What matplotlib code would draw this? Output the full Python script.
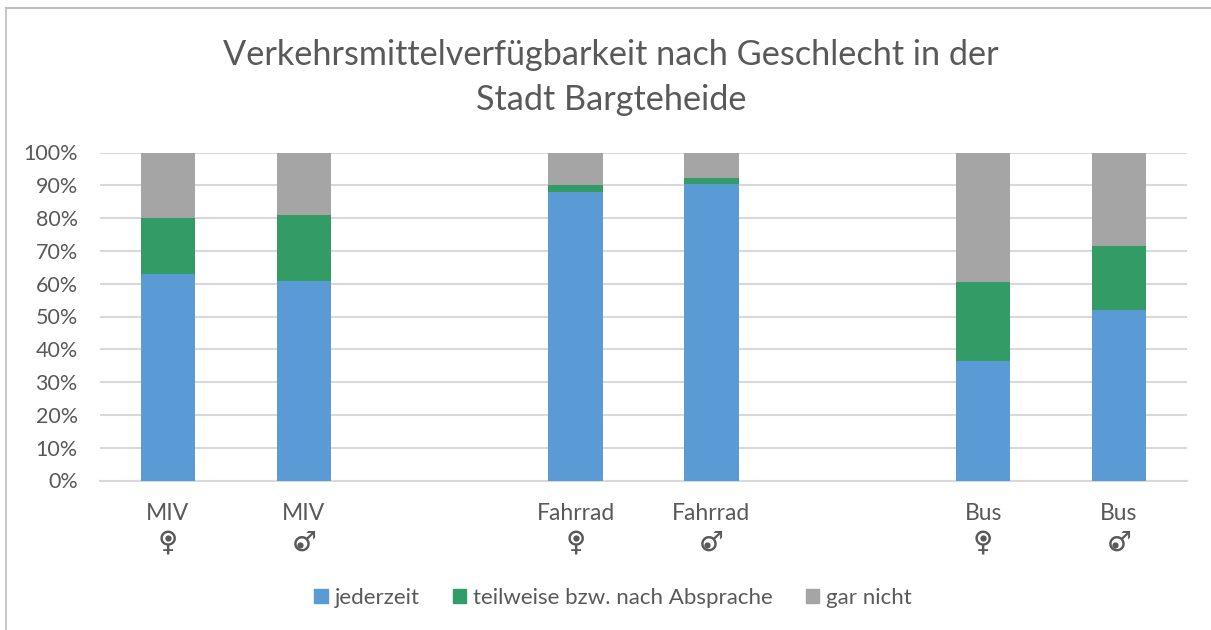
import matplotlib
matplotlib.use("Agg")
import matplotlib.pyplot as plt
from matplotlib.patches import Patch
from matplotlib.lines import Line2D
from matplotlib.transforms import ScaledTranslation

categories = ["MIV", "MIV", "", "Fahrrad", "Fahrrad", "", "Bus", "Bus"]
genders = ["♀", "♂", "", "♀", "♂", "", "♀", "♂"]
jederzeit = [63, 60.8, 0, 88, 90.3, 0, 36.5, 52]
teilweise = [17, 20, 0, 2, 2, 0, 24, 19.5]
gar_nicht = [20, 19.2, 0, 10, 7.7, 0, 39.5, 28.5]
yticks = [0, 10, 20, 30, 40, 50, 60, 70, 80, 90, 100]
title = "Verkehrsmittelverfügbarkeit nach Geschlecht in der\nStadt Bargteheide"
series_names = ["jederzeit", "teilweise bzw. nach Absprache", "gar nicht"]

W, H = 1211, 630
TXT = "#595959"
colors = ["#5B9BD5", "#329B66", "#A5A5A5"]
plt.rcParams["font.family"] = ["Lato", "DejaVu Sans"]

fig = plt.figure(figsize=(W / 100, H / 100), dpi=100)
ax = fig.add_axes([100 / W, 1 - 480.5 / H, 1087 / W, 328 / H])
x = list(range(len(categories)))
b1 = [a + b for a, b in zip(jederzeit, teilweise)]
ax.bar(x, jederzeit, 0.4, color=colors[0], zorder=3)
ax.bar(x, teilweise, 0.4, bottom=jederzeit, color=colors[1], zorder=3)
ax.bar(x, gar_nicht, 0.4, bottom=b1, color=colors[2], zorder=3)
ax.set_xlim(-0.5, 7.5)
ax.set_ylim(0, 100)
ax.set_yticks(yticks, [f"{v}%" for v in yticks])
ax.set_xticks(x, categories)
ax.grid(axis="y", color="#D9D9D9", lw=1.5, zorder=0)
ax.tick_params(axis="y", length=0, labelcolor=TXT, labelsize=15.5, pad=16)
ax.tick_params(axis="x", length=0, labelcolor=TXT, labelsize=16.5, pad=16)
for s in ["top", "right", "left"]:
    ax.spines[s].set_visible(False)
ax.spines["bottom"].set_color("#D9D9D9")
ax.spines["bottom"].set_linewidth(1.5)

PX = 0.72
base = ax.get_xaxis_transform()
for xi, g in zip(x, genders):
    if g:
        female = g == "♀"
        ax.annotate(g, (xi, 0), xycoords=("data", "axes fraction"), xytext=(0, -62 * PX),
                    textcoords="offset points", ha="center", va="center", fontsize=20,
                    color=TXT, family="DejaVu Sans")
        dx, dy = (0, -57) if female else (-4, -64)
        shift = ScaledTranslation(dx * PX / 72, dy * PX / 72, fig.dpi_scale_trans)
        ax.plot([xi], [0], marker="o", ms=4.5, color=TXT, mew=0, clip_on=False, transform=base + shift)

fig.text(611 / W, 1 - 77.5 / H, title, ha="center", va="center", fontsize=24.7, color=TXT, linespacing=1.5)

handles = [Patch(color=c, label=n) for c, n in zip(colors, series_names)]
fig.legend(handles=handles, loc="center", bbox_to_anchor=(613 / W, 1 - 598 / H), ncol=3, frameon=False,
           fontsize=16, labelcolor=TXT, handlelength=0.6, handleheight=0.6, handletextpad=0.32, columnspacing=1.48)

fig.add_artist(Line2D([6 / W, 6 / W], [0, 1 - 8 / H], color="#C8C8C8", lw=1.5, transform=fig.transFigure))
fig.add_artist(Line2D([6 / W, 1], [1 - 8 / H, 1 - 8 / H], color="#BFBFBF", lw=1.5, transform=fig.transFigure))
fig.savefig("out.png", dpi=100)
